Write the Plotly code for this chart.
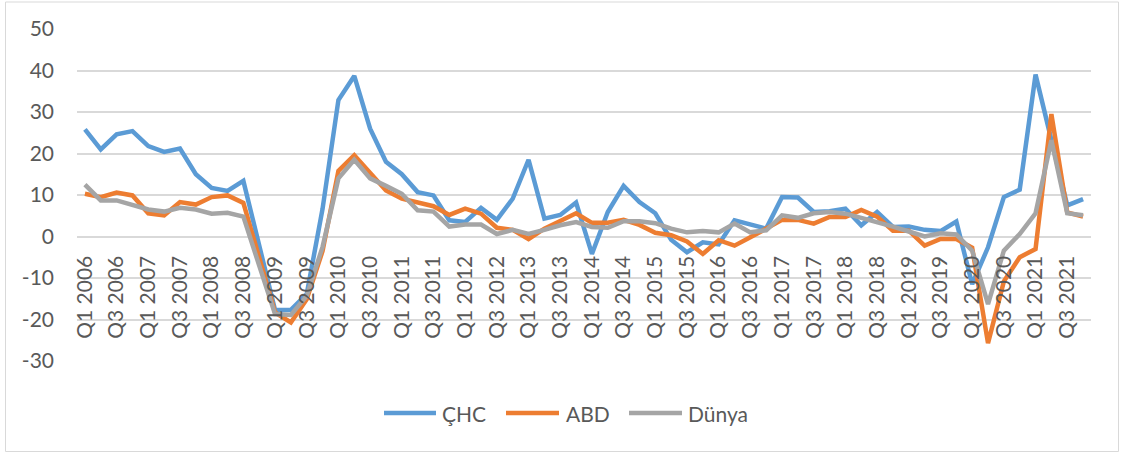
import plotly.graph_objects as go

years = list(range(2006, 2022))
quarters = [f"Q{q} {y}" for y in years for q in (1, 2, 3, 4)]
x_tick_labels = quarters[::2]
y_tick_vals = [-30, -20, -10, 0, 10, 20, 30, 40, 50]
y_tick_text = ["-30", "-20", "-10", "0", "10", "20", "30", "40", "50"]

chc = [25.8, 21.0, 24.6, 25.4, 21.8, 20.4, 21.2, 15.0, 11.7, 11.0, 13.4, -2.5,
       -17.7, -17.7, -13.9, 6.7, 32.9, 38.7, 26.0, 18.0, 15.0, 10.7, 9.9, 3.9,
       3.5, 6.9, 4.0, 9.1, 18.5, 4.3, 5.2, 8.2, -4.2, 5.9, 12.2, 8.3,
       5.6, -0.8, -3.8, -1.4, -1.9, 3.9, 2.9, 1.9, 9.5, 9.4, 5.9, 6.1,
       6.7, 2.7, 5.9, 2.3, 2.4, 1.6, 1.3, 3.6, -11.5, -2.6, 9.5, 11.3,
       39.0, 23.5, 7.5, 9.0]
abd = [10.3, 9.5, 10.6, 9.9, 5.6, 5.1, 8.3, 7.7, 9.5, 9.9, 8.1, -5.5,
       -18.3, -20.7, -15.1, -3.5, 15.8, 19.6, 15.2, 11.1, 9.1, 8.3, 7.3, 5.2,
       6.7, 5.5, 2.1, 1.6, -0.6, 1.9, 3.9, 5.6, 3.3, 3.3, 4.0, 2.8,
       0.9, 0.3, -1.2, -4.2, -0.9, -2.2, -0.2, 1.9, 4.0, 4.0, 3.1, 4.7,
       4.7, 6.4, 4.8, 1.4, 1.4, -2.2, -0.6, -0.6, -2.7, -25.7, -10.8, -5.0,
       -3.0, 29.5, 5.8, 4.8]
dunya = [12.5, 8.7, 8.7, 7.7, 6.5, 6.0, 6.9, 6.5, 5.5, 5.7, 4.8, -7.0,
         -18.7, -18.9, -14.3, -2.5, 14.0, 18.5, 14.0, 12.2, 10.3, 6.3, 6.0, 2.4,
         2.9, 2.9, 0.6, 1.6, 0.6, 1.6, 2.7, 3.5, 2.3, 2.1, 3.7, 3.7,
         3.2, 1.9, 1.0, 1.3, 1.0, 3.1, 1.0, 1.5, 5.1, 4.5, 5.6, 5.9,
         5.5, 4.5, 3.5, 2.4, 1.2, 0.0, 0.8, 0.5, -3.4, -16.3, -3.4, 0.6,
         5.6, 23.2, 5.6, 5.1]

series_names = ["ÇHC", "ABD", "Dünya"]
series_values = [chc, abd, dunya]
series_colors = ["#5B9BD5", "#ED7D31", "#A5A5A5"]

FONT = "Lato"
TXT = "#595959"

fig = go.Figure()
for name, vals, col in zip(series_names, series_values, series_colors):
    fig.add_trace(go.Scatter(x=quarters, y=vals, name=name, mode="lines",
                             line=dict(color=col, width=4.5, shape="linear"),
                             showlegend=False, hoverinfo="x+y+name"))

L, R, T, B = 77, 30, 29, 92
W, H = 1121, 453
pw = W - L - R
ph = H - T - B


def px_x(x):
    return (x - L) / pw


def px_y(y):
    return (H - B - y) / ph


# legend drawn as line samples + text labels (matching the reference layout)
legend_sample_x = [(384, 436), (506, 559), (629, 682)]
legend_text_x = [441, 565, 687]
legend_y = 413
shapes = [dict(type="rect", xref="paper", yref="paper",
               x0=px_x(5.5), x1=px_x(1118.5), y0=px_y(451.5), y1=px_y(2),
               line=dict(color="#D9D9D9", width=1), fillcolor="rgba(0,0,0,0)",
               layer="below")]
annotations = []
for name, col, (sx0, sx1), tx in zip(series_names, series_colors,
                                     legend_sample_x, legend_text_x):
    shapes.append(dict(type="line", xref="paper", yref="paper",
                       x0=px_x(sx0), x1=px_x(sx1),
                       y0=px_y(legend_y), y1=px_y(legend_y),
                       line=dict(color=col, width=4.7)))
    annotations.append(dict(xref="paper", yref="paper", x=px_x(tx),
                            y=px_y(legend_y), xanchor="left", yanchor="middle",
                            text=name, showarrow=False, borderpad=0,
                            font=dict(family=FONT, size=21, color=TXT)))

fig.update_layout(
    width=W, height=H,
    margin=dict(l=L, r=R, t=T, b=B),
    paper_bgcolor="white", plot_bgcolor="white",
    font=dict(family=FONT, size=21, color=TXT),
    showlegend=False,
    xaxis=dict(type="category", tickmode="array", tickvals=x_tick_labels,
               ticktext=x_tick_labels, tickangle=-90, anchor="free",
               position=30 / 80, showgrid=False, zeroline=False,
               showline=False, ticks="", ticklabelstandoff=14,
               tickfont=dict(family=FONT, size=21, color=TXT),
               range=[-0.5, len(quarters) - 0.5]),
    yaxis=dict(range=[-30, 50], tickmode="array", tickvals=y_tick_vals,
               ticktext=y_tick_text, showgrid=True,
               gridcolor="#D9D9D9", gridwidth=1.5, zeroline=False,
               showline=False, ticks="", ticklabelstandoff=22,
               tickfont=dict(family=FONT, size=21, color=TXT)),
    shapes=shapes,
    annotations=annotations,
)

fig.write_html("out.html",
               config={"displayModeBar": False},
               post_script="document.body.style.margin='0px';document.body.style.overflow='hidden';")
